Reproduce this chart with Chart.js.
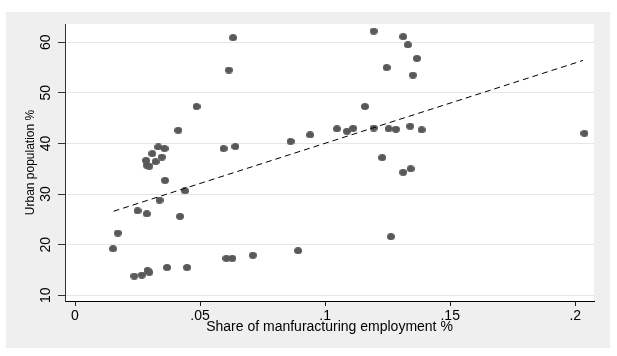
<!DOCTYPE html>
<html>
<head>
<meta charset="utf-8">
<script src="https://cdn.jsdelivr.net/npm/chart.js@4/dist/chart.umd.min.js"></script>
<style>
html,body{margin:0;padding:0;background:#fff;}
#wrap{width:617px;height:356px;}
</style>
</head>
<body>
<div id="wrap"><canvas id="c" width="617" height="356"></canvas></div>
<script>
// Data
const share = [0.0152,0.0171,0.0237,0.0267,0.0250,0.0287,0.0290,0.0297,0.0284,0.0287,0.0297,0.0309,0.0322,0.0333,0.0347,0.0338,0.0358,0.0360,0.0368,0.0413,0.0420,0.0440,0.0448,0.0486,0.0594,0.0605,0.0615,0.0629,0.0632,0.0641,0.0711,0.0862,0.0892,0.0940,0.1047,0.1087,0.1112,0.1159,0.1194,0.1194,0.1228,0.1246,0.1254,0.1263,0.1283,0.1312,0.1312,0.1331,0.1340,0.1342,0.1351,0.1367,0.1386,0.2037];
const urban = [19.2,22.3,13.8,14.0,26.7,26.1,14.9,14.55,36.65,35.7,35.5,38.0,36.4,39.3,37.3,28.8,39.0,32.7,15.5,42.6,25.6,30.65,15.5,47.3,39.0,17.3,54.5,17.3,60.9,39.4,17.9,40.4,18.8,41.7,42.9,42.4,43.0,47.3,62.2,43.05,37.2,55.0,42.9,21.6,42.8,61.1,34.3,59.5,43.4,35.0,53.5,56.8,42.7,42.0];
const fitX = [0.0154, 0.2031];
const fitY = [26.6, 56.4];
const xTicks = [0, 0.05, 0.1, 0.15, 0.2];
const xTickLabels = ['0', '.05', '.1', '.15', '.2'];
const yTicks = [10, 20, 30, 40, 50, 60];
const yTickLabels = ['10', '20', '30', '40', '50', '60'];
const xTitle = 'Share of manfuracturing employment %';
const yTitle = 'Urban population %';

const FONT = "'Liberation Sans', Arial, sans-serif";

// ellipse marker
const mk = document.createElement('canvas');
mk.width = 8; mk.height = 7;
(function(){
  const g = mk.getContext('2d');
  g.fillStyle = '#595959';
  g.beginPath();
  g.ellipse(4, 3.5, 4, 3.5, 0, 0, Math.PI * 2);
  g.fill();
})();

const bgPlugin = {
  id: 'bg',
  beforeDraw(chart) {
    const ctx = chart.ctx, a = chart.chartArea;
    ctx.save();
    ctx.fillStyle = '#ffffff';
    ctx.fillRect(0, 0, chart.width, chart.height);
    ctx.fillStyle = '#efefef';
    ctx.fillRect(6, 12, 604, 336);
    ctx.fillStyle = '#ffffff';
    ctx.fillRect(a.left, a.top, a.right - a.left, a.bottom - a.top);
    ctx.restore();
  }
};

new Chart(document.getElementById('c'), {
  type: 'scatter',
  data: {
    datasets: [
      {
        label: 'fit',
        type: 'line',
        data: fitX.map((x, i) => ({x: x, y: fitY[i]})),
        borderColor: '#000000',
        borderWidth: 1,
        borderDash: [6, 4],
        pointRadius: 0,
        fill: false,
        order: 1
      },
      {
        label: 'urban',
        data: share.map((x, i) => ({x: x, y: urban[i]})),
        pointStyle: mk,
        pointRadius: 4,
        pointHoverRadius: 4,
        backgroundColor: '#595959',
        borderWidth: 0,
        order: 2
      }
    ]
  },
  plugins: [bgPlugin],
  options: {
    responsive: false,
    animation: false,
    devicePixelRatio: 1,
    layout: { padding: { left: 6, top: 24, right: 23, bottom: 8 } },
    plugins: { legend: { display: false }, tooltip: { enabled: false } },
    scales: {
      x: {
        type: 'linear',
        min: -0.004,
        max: 0.2075,
        afterBuildTicks(s) { s.ticks = xTicks.map(v => ({value: v})); },
        afterFit(s) { s.height = 47; },
        ticks: {
          callback(v) { const i = xTicks.indexOf(v); return i >= 0 ? xTickLabels[i] : ''; },
          color: '#000',
          font: { family: FONT, size: 14 },
          padding: 2,
          maxRotation: 0, minRotation: 0,
          autoSkip: false
        },
        grid: { drawOnChartArea: false, drawTicks: true, tickLength: 5, tickColor: '#222', tickWidth: 1 },
        border: { color: '#000', width: 1 },
        title: {
          display: true,
          text: xTitle,
          color: '#000',
          font: { family: FONT, size: 14 },
          padding: { top: 0, bottom: 12 }
        }
      },
      y: {
        type: 'linear',
        min: 8.87,
        max: 63.6,
        afterBuildTicks(s) { s.ticks = yTicks.map(v => ({value: v})); },
        afterFit(s) { s.width = 59; },
        ticks: {
          callback(v) { const i = yTicks.indexOf(v); return i >= 0 ? yTickLabels[i] : ''; },
          color: '#000',
          font: { family: FONT, size: 14 },
          padding: 4,
          minRotation: 90, maxRotation: 90,
          crossAlign: 'center',
          autoSkip: false
        },
        grid: { color: '#e6e6e6', lineWidth: 1, drawTicks: true, tickLength: 7, tickColor: '#333', tickWidth: 1 },
        border: { color: '#333', width: 1 },
        title: {
          display: true,
          text: yTitle,
          color: '#000',
          font: { family: FONT, size: 12 },
          padding: { top: 17, bottom: 0 }
        }
      }
    }
  }
});
</script>
</body>
</html>
